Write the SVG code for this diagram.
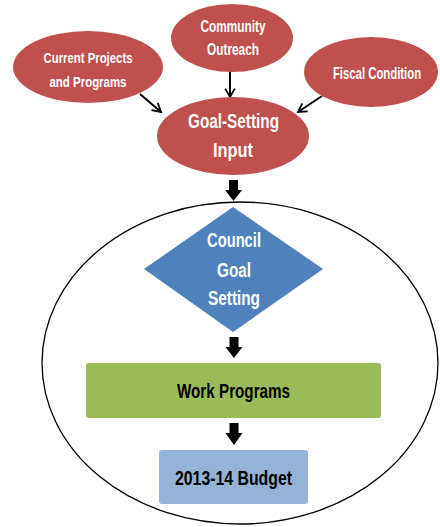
<svg xmlns="http://www.w3.org/2000/svg" width="440" height="527" viewBox="0 0 440 527">
<defs>
<style>
.red{fill:#C0504D}
.wt{fill:#fff;font-family:"Liberation Sans",Arial,sans-serif;font-weight:bold;text-anchor:middle}
.bt{fill:#000;font-family:"Liberation Sans",Arial,sans-serif;font-weight:bold;text-anchor:middle}
.thin{stroke:#000;stroke-width:2;fill:none;marker-end:url(#open)}
.block{fill:#000}
</style>
<marker id="open" viewBox="0 0 10 10" refX="8" refY="5" markerWidth="6" markerHeight="6" orient="auto" markerUnits="strokeWidth">
<path d="M1,1 L8,5 L1,9" fill="none" stroke="#000" stroke-width="1.5"/>
</marker>
</defs>
<rect width="440" height="527" fill="#fff"/>
<g id="scope">
<ellipse cx="240" cy="363" rx="198" ry="161" fill="none" stroke="#000" stroke-width="1.3"/>
</g>
<g id="connectors">
<line class="thin" x1="140" y1="94" x2="161" y2="112"/>
<line class="thin" x1="230" y1="70" x2="230" y2="97"/>
<line class="thin" x1="322" y1="96" x2="298" y2="112"/>
<polygon class="block" points="229,180 238,180 238,190 242,190 233.5,201 225,190 229,190"/>
<polygon class="block" points="229.5,337 238.5,337 238.5,347 242.5,347 234,358 225.5,347 229.5,347"/>
<polygon class="block" points="229.5,423 238.5,423 238.5,433 242.5,433 234,445 225.5,433 229.5,433"/>
</g>
<g id="current">
<ellipse class="red" cx="88" cy="67" rx="75" ry="36"/>
<text class="wt" x="88" y="63" font-size="15.5" textLength="89" lengthAdjust="spacingAndGlyphs">Current Projects</text>
<text class="wt" x="88" y="87" font-size="15.5" textLength="77" lengthAdjust="spacingAndGlyphs">and Programs</text>
</g>
<g id="community">
<ellipse class="red" cx="232" cy="38" rx="61" ry="34"/>
<text class="wt" x="233" y="32" font-size="16" textLength="65" lengthAdjust="spacingAndGlyphs">Community</text>
<text class="wt" x="233" y="55" font-size="16" textLength="52" lengthAdjust="spacingAndGlyphs">Outreach</text>
</g>
<g id="fiscal">
<ellipse class="red" cx="371" cy="72" rx="67" ry="35"/>
<text class="wt" transform="translate(377,79) scale(0.71,1)" x="0" y="0" font-size="16">Fiscal Condition</text>
</g>
<g id="goal-input">
<ellipse class="red" cx="233" cy="136" rx="76" ry="39"/>
<text class="wt" x="233.5" y="128" font-size="21" textLength="91" lengthAdjust="spacingAndGlyphs">Goal-Setting</text>
<text class="wt" x="233" y="157" font-size="21" textLength="40" lengthAdjust="spacingAndGlyphs">Input</text>
</g>
<g id="council">
<polygon points="233,207 323,269 233,332 144,269" fill="#4F81BD"/>
<text class="wt" x="234" y="247" font-size="21" textLength="54" lengthAdjust="spacingAndGlyphs">Council</text>
<text class="wt" x="234" y="277" font-size="21" textLength="34" lengthAdjust="spacingAndGlyphs">Goal</text>
<text class="wt" x="234" y="305" font-size="21" textLength="52" lengthAdjust="spacingAndGlyphs">Setting</text>
</g>
<g id="work">
<rect x="86" y="363" width="295" height="55" rx="3" fill="#9BBB59"/>
<text class="bt" x="233.5" y="398" font-size="21" textLength="113" lengthAdjust="spacingAndGlyphs">Work Programs</text>
</g>
<g id="budget">
<rect x="159" y="450" width="149" height="54" rx="3" fill="#95B3D7"/>
<text class="bt" x="233.5" y="485" font-size="21" textLength="117" lengthAdjust="spacingAndGlyphs">2013-14 Budget</text>
</g>
</svg>
